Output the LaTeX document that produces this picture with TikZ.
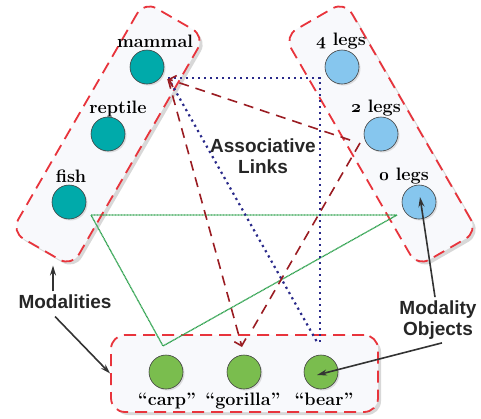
\documentclass[tikz,border=0pt]{standalone}
\usepackage{fontspec}
\setsansfont{Liberation Sans}
\usetikzlibrary{arrows.meta, positioning, shadows, calc}

\definecolor{boxred}{HTML}{E8343C}
\definecolor{boxfill}{HTML}{F8F9FC}
\definecolor{linkred}{HTML}{9A1C22}
\definecolor{linkblue}{HTML}{2A2A8A}
\definecolor{linkgreen}{HTML}{2FA24F}
\definecolor{modteal}{HTML}{00AAAA}
\definecolor{modsky}{HTML}{86C6EE}
\definecolor{modgreen}{HTML}{7ABD4E}
\newcommand{\osn}[1]{{\usefont{OML}{cmm}{b}{it}#1}}

\begin{document}
\begin{tikzpicture}[x=1pt, y=-1pt,
    modbox/.style={draw=boxred, line width=1.8pt, dash pattern=on 12pt off 7pt,
      fill=boxfill, rounded corners=14pt,
      drop shadow={shadow xshift=3pt, shadow yshift=-3pt, fill=black!30}},
    obj/.style={circle, draw=black!75, line width=0.6pt, minimum size=34pt, inner sep=0pt,
      drop shadow={shadow xshift=1.5pt, shadow yshift=-1.5pt, fill=black!25}},
    lbl/.style={font=\fontsize{18}{20}\selectfont\bfseries, anchor=base, inner sep=0pt},
    note/.style={font=\fontsize{19}{21}\selectfont\sffamily\bfseries, text=black!85, align=center},
    redlink/.style={draw=linkred, line width=1.6pt, dash pattern=on 10pt off 7pt},
    bluelink/.style={draw=linkblue, line width=2.2pt, dash pattern=on 2.2pt off 3.8pt},
    greenlink/.style={draw=linkgreen, line width=1.3pt, dash pattern=on 1pt off 0.5pt},
    pointer/.style={draw=black!80, line width=1.6pt, -{Stealth[length=10pt, width=6pt]}}
  ]
    \useasboundingbox (0,0) rectangle (481,418);

    % modality boxes
    \node[modbox, rotate=60, minimum width=266pt, minimum height=70pt] (lbox) at (108,134) {};
    \node[modbox, rotate=-60, minimum width=266pt, minimum height=70pt] (rbox) at (381,134) {};
    \node[modbox, minimum width=267pt, minimum height=77pt] (bbox) at (244.5,373.5) {};

    % objects
    \node[obj, fill=modteal] (mammal) at (147,67) {};
    \node[obj, fill=modteal] (reptile) at (108,134) {};
    \node[obj, fill=modteal] (fish) at (69,202) {};
    \node[obj, fill=modsky] (fourlegs) at (342,67) {};
    \node[obj, fill=modsky] (twolegs) at (381,134) {};
    \node[obj, fill=modsky] (zerolegs) at (419,202) {};
    \node[obj, fill=modgreen] (carp) at (166,372) {};
    \node[obj, fill=modgreen] (gorilla) at (244,372) {};
    \node[obj, fill=modgreen] (bear) at (321,372) {};

    \node[lbl] (mammal-l) at (155,47) {mammal};
    \node[lbl] (reptile-l) at (118,113) {reptile};
    \node[lbl] (fish-l) at (71,182) {fish};
    \node[lbl] (fourlegs-l) at (341,45) {\osn{4} legs};
    \node[lbl] (twolegs-l) at (376,112) {\osn{2} legs};
    \node[lbl] (zerolegs-l) at (404,180) {\osn{0} legs};
    \node[lbl] (carp-l) at (167,405) {``carp''};
    \node[lbl] (gorilla-l) at (243,405) {``gorilla''};
    \node[lbl] (bear-l) at (324,405) {``bear''};

    % associative links
    \draw[greenlink] ($(fish)+(22,13)$) -- ($(zerolegs)+(-22,13)$) -- ($(carp)+(-3,-26)$) -- cycle;
    \draw[bluelink] ($(mammal)+(21,11)$) -| ($(bear)+(-1,-27)$);
    \draw[bluelink] ($(mammal)+(24,16)$) -- ($(bear)+(-4,-30)$);
    \draw[redlink, -{Straight Barb[length=6pt, width=12pt]}] ($(twolegs)+(-31,6)$) -- ($(mammal)+(21,12)$);
    \draw[redlink, -{Straight Barb[length=6pt, width=12pt]}] ($(mammal)+(21,12)$) -- ($(gorilla)+(-2,-25)$);
    \draw[redlink] ($(twolegs)+(-21,9)$) -- ($(gorilla)+(8,-42)$);

    \node[note] (assoc) at (263,156) {Associative\\Links};
    \node[note] (modal) at (65,302) {Modalities};
    \node[note] (objs) at (438,320) {Modality\\Objects};

    \draw[pointer] ([xshift=-12pt]modal.north) -- ++(0,-26);
    \draw[pointer] ([xshift=-10pt, yshift=-4pt]modal.south) -- (bbox.west);
    \draw[pointer] ([xshift=-3pt]objs.north) -- ($(zerolegs)+(1,-5)$);
    \draw[pointer] ([xshift=4pt]objs.south) -- ($(bear)+(-4,3)$);
\end{tikzpicture}
\end{document}
